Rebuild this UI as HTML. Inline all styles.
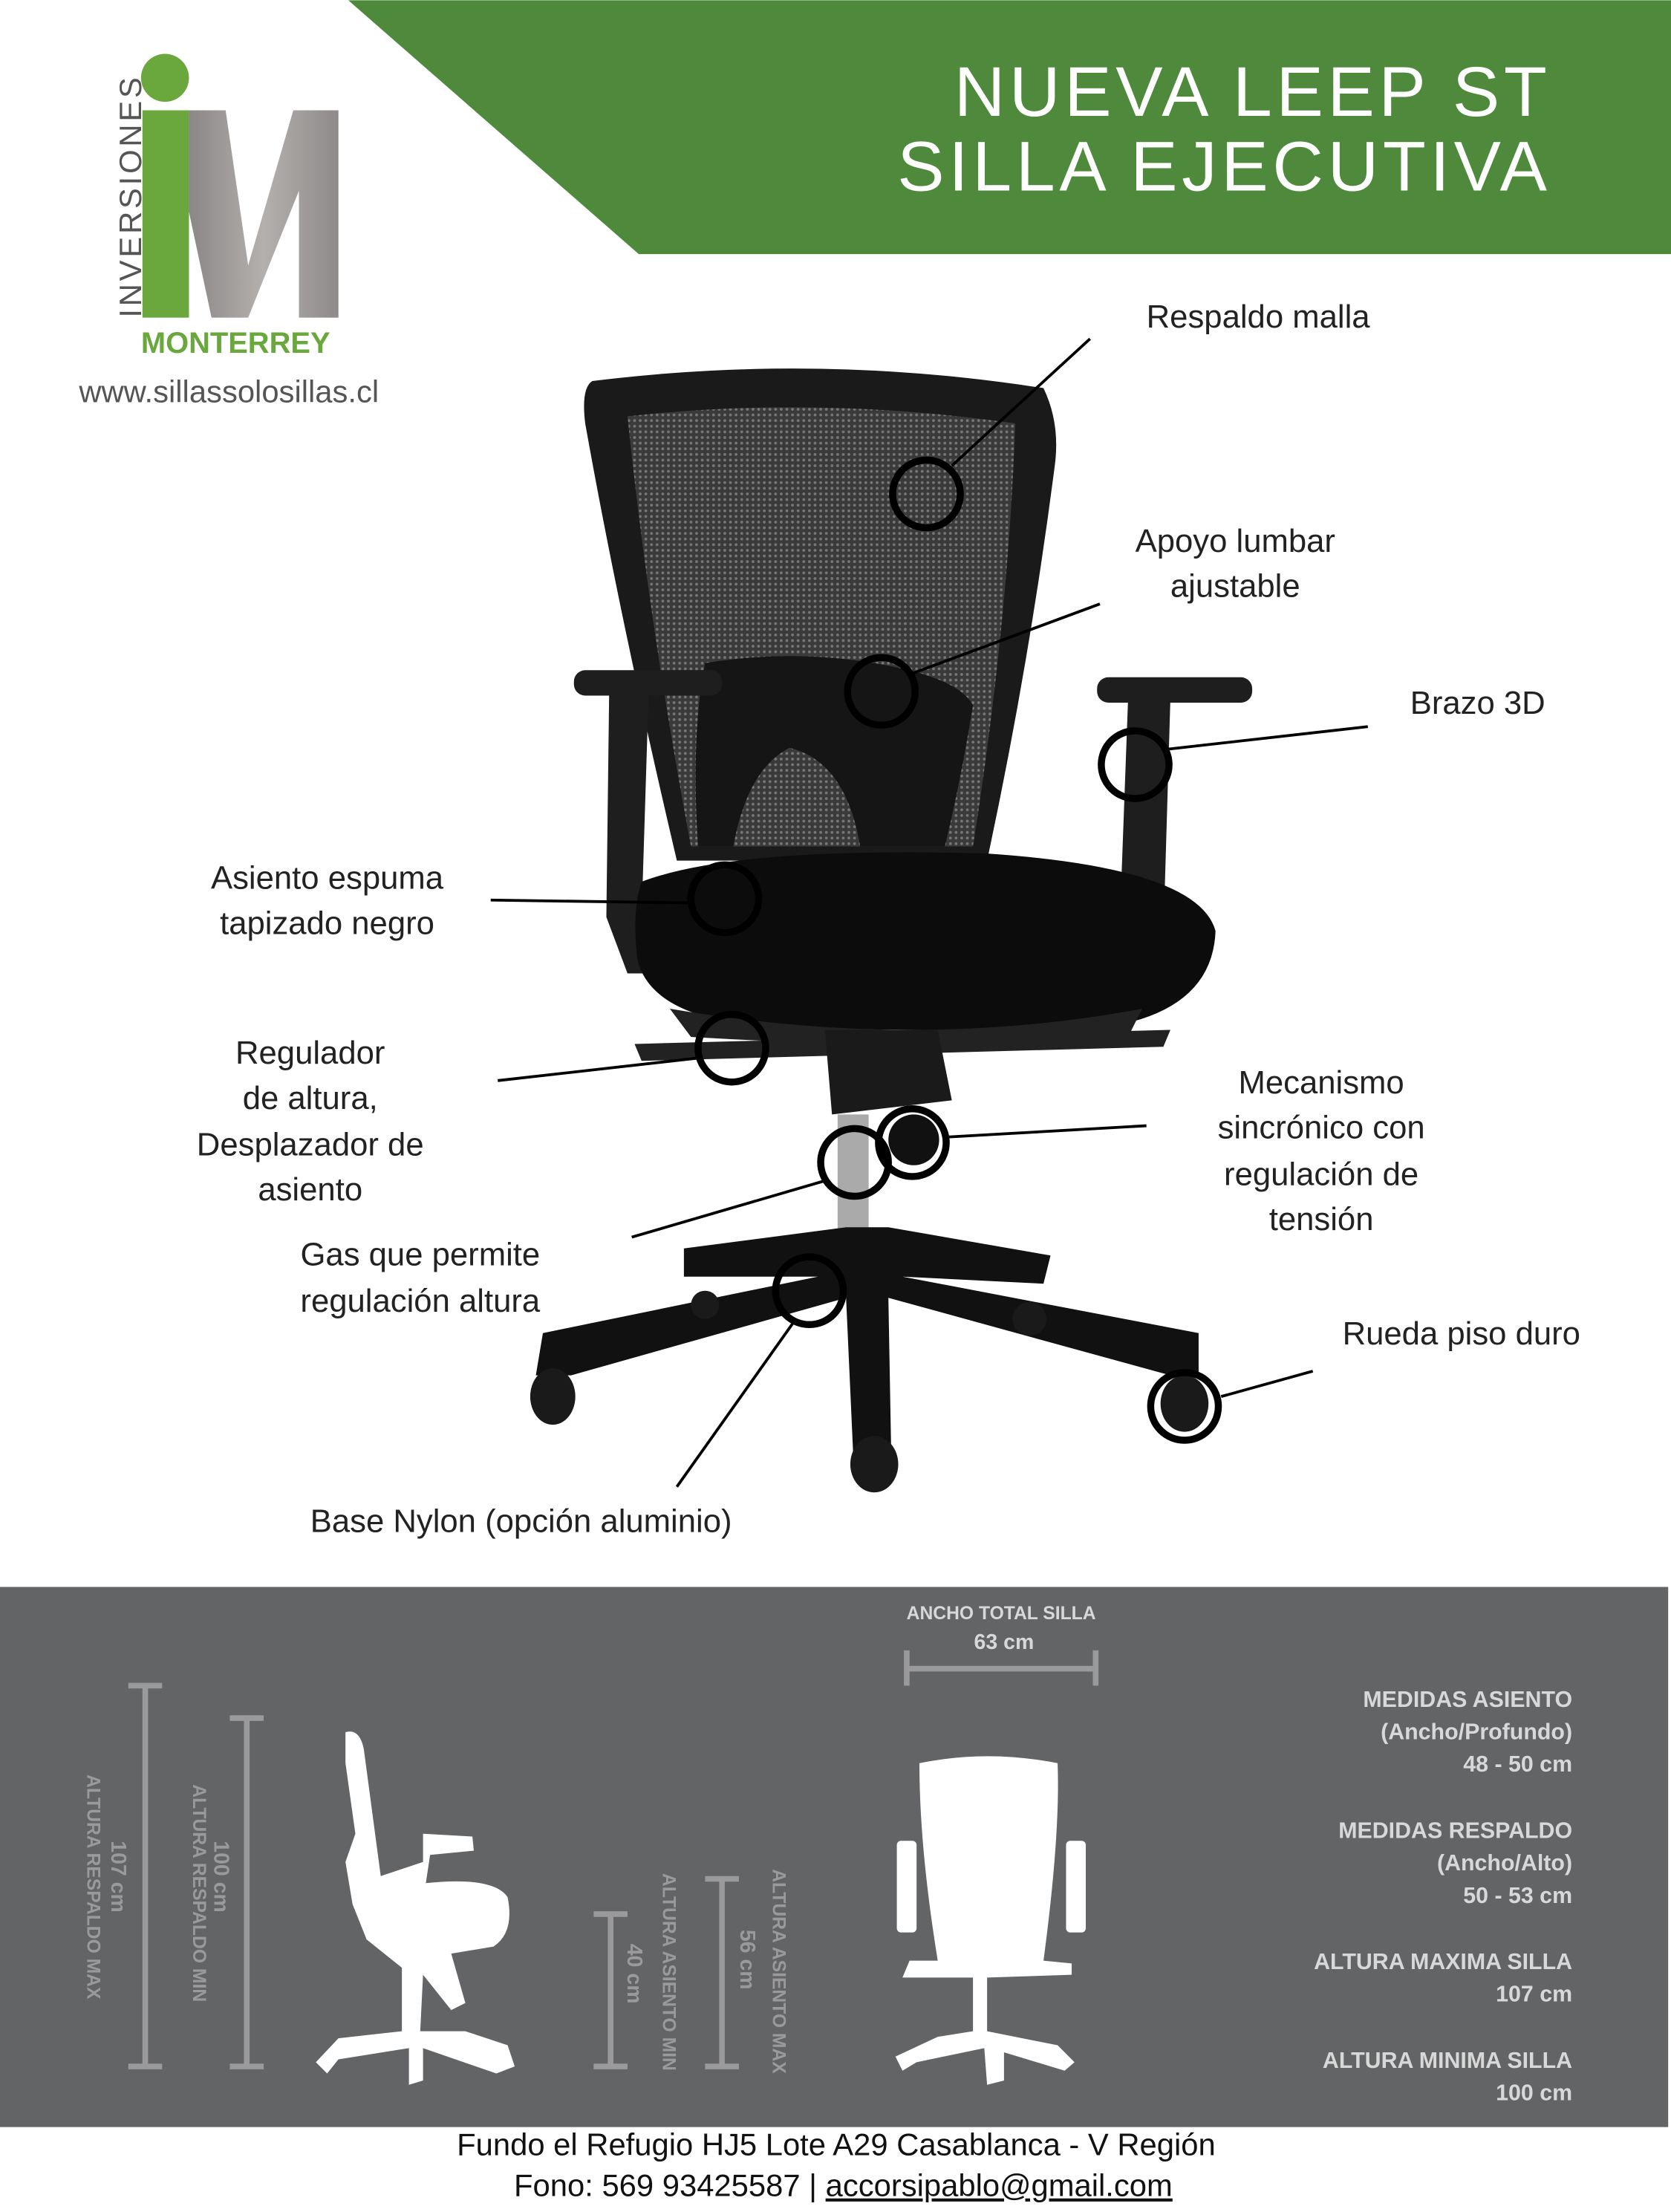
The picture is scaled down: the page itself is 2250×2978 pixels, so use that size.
<!DOCTYPE html>
<html><head><meta charset="utf-8"><style>
html,body{margin:0;padding:0;background:#fff}
svg{display:block}
text{font-family:"Liberation Sans",sans-serif}
</style></head><body>
<svg width="2250" height="2978" viewBox="0 0 1185 1568" xmlns="http://www.w3.org/2000/svg">
<defs>
<pattern id="mesh" width="4" height="4" patternUnits="userSpaceOnUse">
<rect width="4" height="4" fill="#3a3a3a"/><circle cx="2" cy="2" r="1" fill="#777"/>
</pattern>
<linearGradient id="mg" x1="0" x2="1"><stop offset="0" stop-color="#8a8786"/><stop offset="0.5" stop-color="#b3b0ae"/><stop offset="1" stop-color="#8d8a89"/></linearGradient>
</defs>
<rect width="1185" height="1568" fill="#fff"/>
<polygon points="247,0 1185,0 1185,180 453,180" fill="#4f8a3c"/>
<text x="1100" y="82" font-size="50" fill="#fff" text-anchor="end" letter-spacing="3">NUEVA LEEP ST</text>
<text x="1100" y="135" font-size="50" fill="#fff" text-anchor="end" letter-spacing="3">SILLA EJECUTIVA</text>
<polygon points="134,78 160,78 176,188 208,78 240,78 240,225 212,225 212,135 176,225 150,225 134,150" fill="url(#mg)"/>
<circle cx="117" cy="55" r="17" fill="#6aa83e"/>
<rect x="101" y="78" width="33" height="147" fill="#6aa83e"/>
<text transform="translate(100,225) rotate(-90)" font-size="22" fill="#555" letter-spacing="2">INVERSIONES</text>
<text x="100" y="250" font-size="21" font-weight="bold" fill="#6aa83e">MONTERREY</text>
<text x="56" y="285" font-size="22" fill="#555">www.sillassolosillas.cl</text>
<g>
<path d="M420,270 Q580,250 740,275 Q752,300 748,330 Q730,470 700,610 L480,610 Q440,440 415,300 Q412,275 420,270Z" fill="#1a1a1a"/>
<path d="M445,295 Q580,280 720,300 Q715,440 690,600 L490,600 Q460,440 445,295Z" fill="url(#mesh)"/>
<path d="M500,470 Q560,460 620,470 Q680,480 690,500 Q680,560 670,600 L610,600 Q600,540 560,530 Q530,545 520,600 L495,600 Q490,520 500,470Z" fill="#151515"/>
<rect x="407" y="475" width="105" height="18" rx="8" fill="#1e1e1e"/>
<path d="M432,490 L460,490 L455,650 L470,690 L445,690 L430,650Z" fill="#1e1e1e"/>
<rect x="778" y="480" width="110" height="18" rx="8" fill="#1e1e1e"/>
<path d="M800,495 L830,495 L826,630 L795,630Z" fill="#1e1e1e"/>
<path d="M455,625 Q520,600 700,605 Q850,615 862,660 Q860,710 800,725 Q650,735 520,725 Q460,715 452,680 Q448,645 455,625Z" fill="#0c0c0c"/>
<path d="M475,715 Q650,745 810,715 L800,735 Q650,745 490,735Z" fill="#222"/>
<path d="M450,740 L830,730 L825,742 L455,752Z" fill="#222"/>
<path d="M585,730 L665,730 L675,780 L590,790Z" fill="#1a1a1a"/>
<rect x="594" y="790" width="22" height="90" fill="#aaa"/>
<circle cx="648" cy="808" r="18" fill="#111"/>
<path d="M600,870 L630,870 L745,890 L740,910 L640,905 L850,945 L850,975 L830,975 L630,920 L632,1030 L605,1030 L600,920 L405,975 L380,975 L385,945 L580,905 L485,905 L485,885Z" fill="#111"/>
<ellipse cx="392" cy="990" rx="16" ry="20" fill="#1a1a1a"/>
<ellipse cx="620" cy="1038" rx="17" ry="20" fill="#1a1a1a"/>
<ellipse cx="840" cy="995" rx="17" ry="20" fill="#1a1a1a"/>
<ellipse cx="730" cy="935" rx="12" ry="12" fill="#1a1a1a"/>
<ellipse cx="500" cy="925" rx="10" ry="10" fill="#1a1a1a"/>
</g>
<g fill="none" stroke="#000" stroke-width="2">
<line x1="675" y1="330" x2="773" y2="240"/>
<line x1="645" y1="478" x2="780" y2="428"/>
<line x1="828" y1="531" x2="970" y2="515"/>
<line x1="348" y1="638" x2="490" y2="640"/>
<line x1="353" y1="766" x2="495" y2="750"/>
<line x1="672" y1="806" x2="813" y2="798"/>
<line x1="448" y1="877" x2="585" y2="837"/>
<line x1="480" y1="1054" x2="563" y2="937"/>
<line x1="866" y1="990" x2="931" y2="972"/>
</g>
<g fill="none" stroke="#000" stroke-width="5">
<circle cx="657" cy="350" r="24"/>
<circle cx="625" cy="490" r="24"/>
<circle cx="805" cy="542" r="24"/>
<circle cx="514" cy="637" r="24"/>
<circle cx="519" cy="743" r="24"/>
<circle cx="647" cy="810" r="24"/>
<circle cx="606" cy="824" r="24"/>
<circle cx="574" cy="915" r="24"/>
<circle cx="840" cy="997" r="24"/>
</g>
<g font-size="23" fill="#222">
<text x="813" y="232">Respaldo malla</text>
<text x="876" y="391" text-anchor="middle">Apoyo lumbar</text>
<text x="876" y="423" text-anchor="middle">ajustable</text>
<text x="1000" y="506">Brazo 3D</text>
<text x="232" y="630" text-anchor="middle">Asiento espuma</text>
<text x="232" y="662" text-anchor="middle">tapizado negro</text>
<text x="220" y="754" text-anchor="middle">Regulador</text>
<text x="220" y="786" text-anchor="middle">de altura,</text>
<text x="220" y="819" text-anchor="middle">Desplazador de</text>
<text x="220" y="851" text-anchor="middle">asiento</text>
<text x="937" y="775" text-anchor="middle">Mecanismo</text>
<text x="937" y="807" text-anchor="middle">sincrónico con</text>
<text x="937" y="840" text-anchor="middle">regulación de</text>
<text x="937" y="872" text-anchor="middle">tensión</text>
<text x="298" y="897" text-anchor="middle">Gas que permite</text>
<text x="298" y="930" text-anchor="middle">regulación altura</text>
<text x="952" y="953">Rueda piso duro</text>
<text x="220" y="1086">Base Nylon (opción aluminio)</text>
</g>
<rect x="0" y="1125" width="1183" height="383" fill="#636466"/>
<g stroke="#9a9a9c" stroke-width="4" fill="none">
<line x1="103" y1="1195" x2="103" y2="1465"/><line x1="91" y1="1195" x2="115" y2="1195"/><line x1="91" y1="1465" x2="115" y2="1465"/>
<line x1="175" y1="1218" x2="175" y2="1465"/><line x1="163" y1="1218" x2="187" y2="1218"/><line x1="163" y1="1465" x2="187" y2="1465"/>
<line x1="433" y1="1357" x2="433" y2="1465"/><line x1="421" y1="1357" x2="445" y2="1357"/><line x1="421" y1="1465" x2="445" y2="1465"/>
<line x1="512" y1="1332" x2="512" y2="1465"/><line x1="500" y1="1332" x2="524" y2="1332"/><line x1="500" y1="1465" x2="524" y2="1465"/>
<line x1="643" y1="1183" x2="777" y2="1183"/><line x1="643" y1="1170" x2="643" y2="1195"/><line x1="777" y1="1170" x2="777" y2="1195"/>
</g>
<g fill="#9a9a9c" font-size="13" font-weight="bold">
<text transform="translate(62,1258) rotate(90)">ALTURA RESPALDO MAX</text>
<text transform="translate(79,1305) rotate(90)" font-size="15">107 cm</text>
<text transform="translate(137,1265) rotate(90)">ALTURA RESPALDO MIN</text>
<text transform="translate(152,1305) rotate(90)" font-size="15">100 cm</text>
<text transform="translate(470,1328) rotate(90)">ALTURA ASIENTO MIN</text>
<text transform="translate(445,1378) rotate(90)" font-size="15">40 cm</text>
<text transform="translate(548,1325) rotate(90)">ALTURA ASIENTO MAX</text>
<text transform="translate(525,1368) rotate(90)" font-size="15">56 cm</text>
</g>
<g fill="#d8d8d8" font-weight="bold">
<text x="710" y="1148" font-size="13" text-anchor="middle">ANCHO TOTAL SILLA</text>
<text x="712" y="1169" font-size="15" text-anchor="middle">63 cm</text>
<g font-size="16" text-anchor="end">
<text x="1115" y="1210">MEDIDAS ASIENTO</text>
<text x="1115" y="1233">(Ancho/Profundo)</text>
<text x="1115" y="1256">48 - 50 cm</text>
<text x="1115" y="1303">MEDIDAS RESPALDO</text>
<text x="1115" y="1326">(Ancho/Alto)</text>
<text x="1115" y="1349">50 - 53 cm</text>
<text x="1115" y="1396">ALTURA MAXIMA SILLA</text>
<text x="1115" y="1419">107 cm</text>
<text x="1115" y="1466">ALTURA MINIMA SILLA</text>
<text x="1115" y="1489">100 cm</text>
</g>
</g>
<g fill="#fff">
<path d="M245,1228 Q255,1225 258,1240 L270,1330 L300,1320 L300,1300 L335,1302 L336,1312 L305,1315 L302,1335 Q350,1330 360,1345 Q365,1370 350,1380 L320,1385 L330,1420 L320,1425 L300,1400 L298,1440 L330,1440 L360,1450 L365,1465 L352,1470 L300,1452 L300,1475 L290,1478 L290,1452 L240,1460 L232,1470 L224,1462 L240,1445 L285,1440 L285,1395 L260,1375 L250,1350 L245,1320 L252,1300 L245,1250Z"/>
<path d="M652,1250 Q700,1240 750,1250 Q752,1300 740,1390 L760,1392 L760,1400 L700,1402 L700,1440 L750,1450 L762,1462 L755,1468 L712,1455 L712,1475 L700,1478 L698,1452 L650,1462 L640,1468 L635,1458 L665,1444 L690,1440 L690,1402 L640,1402 L645,1390 L665,1390 Q652,1310 652,1250Z"/>
<rect x="636" y="1305" width="14" height="65" rx="3"/>
<rect x="756" y="1305" width="14" height="65" rx="3"/>
</g>
<g font-size="22" fill="#111" text-anchor="middle">
<text x="593" y="1528">Fundo el Refugio HJ5 Lote A29 Casablanca - V Región</text>
<text x="598" y="1557">Fono: 569 93425587 | <tspan text-decoration="underline">accorsipablo@gmail.com</tspan></text>
</g>
</svg>
</body></html>
